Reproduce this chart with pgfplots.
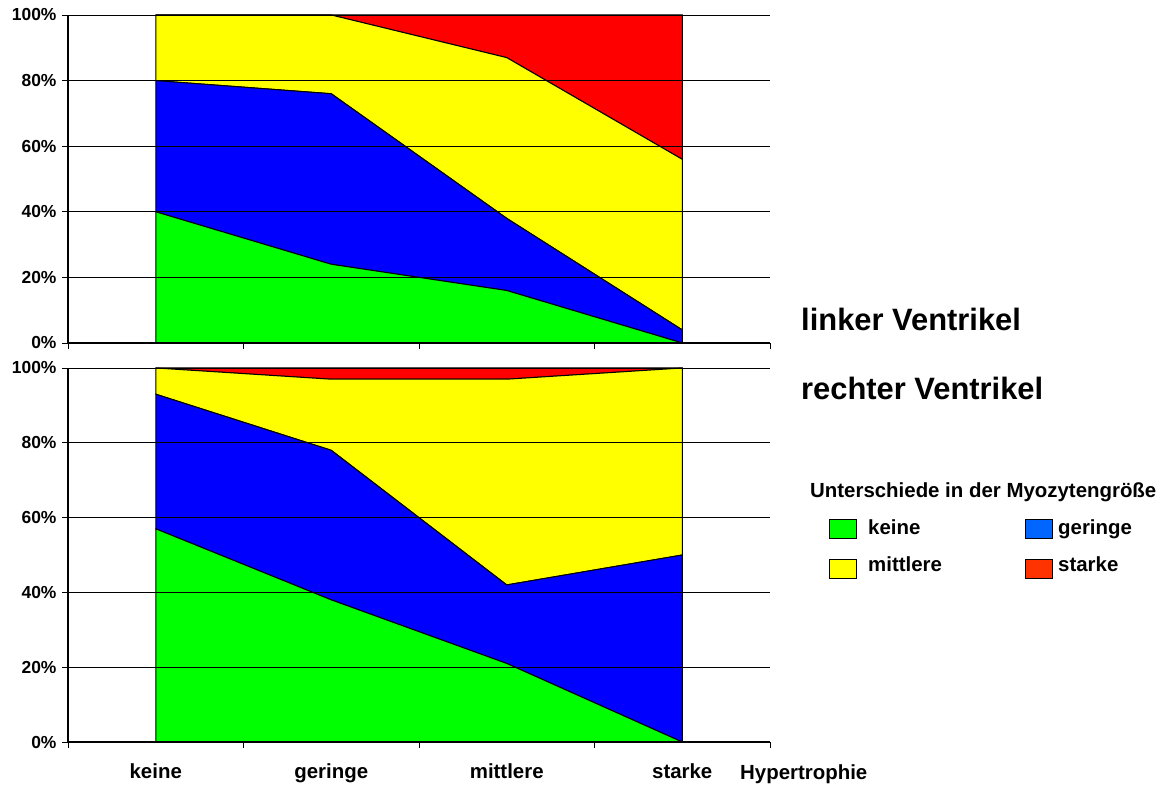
\documentclass[border=0pt]{standalone}
\usepackage{pgfplots}
\pgfplotsset{compat=1.18}
\usepackage{fontspec}
\setmainfont{Liberation Sans}

\definecolor{cKeine}{RGB}{0,255,0}
\definecolor{cGeringe}{RGB}{0,0,255}
\definecolor{cMittlere}{RGB}{255,255,0}
\definecolor{cStarke}{RGB}{255,0,0}
\definecolor{lgGeringe}{RGB}{0,102,255}
\definecolor{lgStarke}{RGB}{255,51,0}

\pgfplotsset{
  myo/.style={
    scale only axis, width=702bp,
    xmin=0, xmax=4, ymin=0, ymax=100,
    axis x line*=bottom, axis y line*=left,
    axis line style={black, line width=1.2bp},
    tick align=outside, major tick length=6bp,
    tick style={black, line width=0.9bp},
    xtick={0,1,2,3,4}, xticklabels={},
    ytick={0,20,40,60,80,100},
    yticklabels={0\%,20\%,40\%,60\%,80\%,100\%},
    yticklabel style={font=\fontsize{17.5}{17.5}\selectfont\bfseries, xshift=-2bp},
    ymajorgrids, grid style={black, line width=0.8bp},
    stack plots=y, area style,
  },
  lay/.style={draw=black, line width=1bp, fill=#1},
}

\begin{document}
\begin{tikzpicture}
\path[use as bounding box] (0,0) rectangle (1168bp,787bp);

% linker Ventrikel
\begin{axis}[myo, at={(68bp,444bp)}, anchor=south west, height=328bp]
  \addplot[lay=cKeine] coordinates {(0.5,40) (1.5,24) (2.5,16) (3.5,0)} \closedcycle;
  \addplot[lay=cGeringe] coordinates {(0.5,40) (1.5,52) (2.5,22) (3.5,4)} \closedcycle;
  \addplot[lay=cMittlere] coordinates {(0.5,20) (1.5,24) (2.5,49) (3.5,52)} \closedcycle;
  \addplot[lay=cStarke] coordinates {(0.5,0) (1.5,0) (2.5,13) (3.5,44)} \closedcycle;
\end{axis}

% rechter Ventrikel
\begin{axis}[myo, at={(68bp,45bp)}, anchor=south west, height=374bp,
  extra x ticks={0.5,1.5,2.5,3.5},
  extra x tick labels={keine,geringe,mittlere,starke},
  extra x tick style={major tick length=0pt,
    xticklabel style={anchor=base, yshift=-37bp, font=\fontsize{20.5}{20.5}\selectfont\bfseries}}]
  \addplot[lay=cKeine] coordinates {(0.5,57) (1.5,38) (2.5,21) (3.5,0)} \closedcycle;
  \addplot[lay=cGeringe] coordinates {(0.5,36) (1.5,40) (2.5,21) (3.5,50)} \closedcycle;
  \addplot[lay=cMittlere] coordinates {(0.5,7) (1.5,19) (2.5,55) (3.5,50)} \closedcycle;
  \addplot[lay=cStarke] coordinates {(0.5,0) (1.5,3) (2.5,3) (3.5,0)} \closedcycle;
\end{axis}

\node[anchor=base west, inner sep=0, font=\fontsize{20.5}{20.5}\selectfont\bfseries] at (740bp,8bp) {Hypertrophie};

\node[anchor=base west, inner sep=0, font=\fontsize{31}{31}\selectfont\bfseries] at (801bp,456bp) {linker Ventrikel};
\node[anchor=base west, inner sep=0, font=\fontsize{31}{31}\selectfont\bfseries] at (801bp,387bp) {rechter Ventrikel};

% legend
\begin{scope}[font=\fontsize{20.5}{20.5}\selectfont\bfseries]
  \node[anchor=base west, inner sep=0] at (810bp,289bp) {Unterschiede in der Myozytengröße};
  \draw[fill=cKeine, line width=0.8bp] (829bp,249bp) rectangle (856bp,268bp);
  \node[anchor=base west, inner sep=0] at (868bp,252bp) {keine};
  \draw[fill=lgGeringe, line width=0.8bp] (1025bp,249bp) rectangle (1052bp,268bp);
  \node[anchor=base west, inner sep=0] at (1058bp,252bp) {geringe};
  \draw[fill=cMittlere, line width=0.8bp] (829bp,209bp) rectangle (856bp,228bp);
  \node[anchor=base west, inner sep=0] at (868bp,215bp) {mittlere};
  \draw[fill=lgStarke, line width=0.8bp] (1025bp,209bp) rectangle (1052bp,228bp);
  \node[anchor=base west, inner sep=0] at (1058bp,215bp) {starke};
\end{scope}
\end{tikzpicture}
\end{document}
